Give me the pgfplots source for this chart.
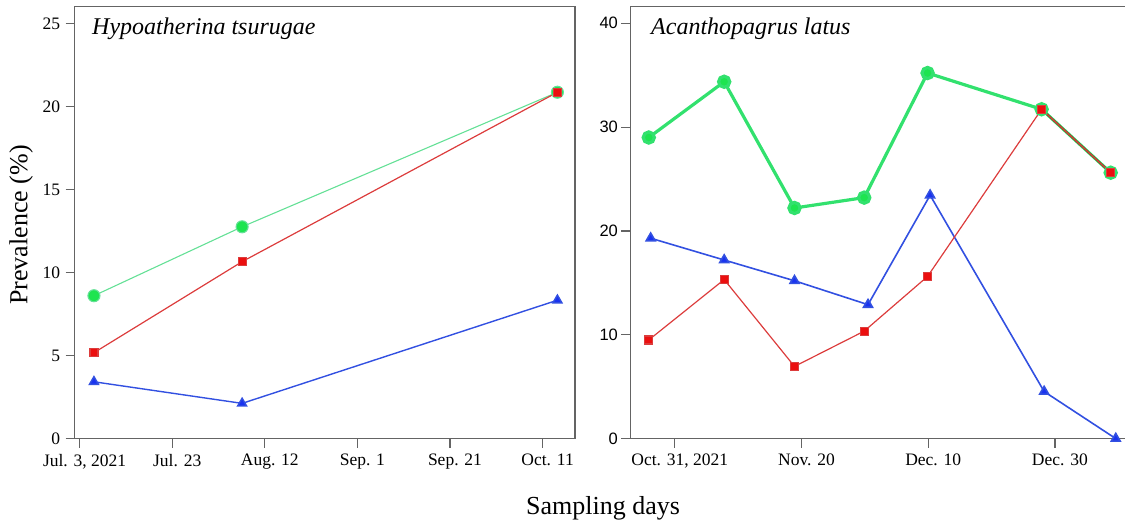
\documentclass[border=0pt]{standalone}
\usepackage{pgfplots}
\pgfplotsset{compat=1.18}
\usepackage{fontspec}
\setmainfont{Liberation Serif}
\newfontfamily\sansf{Liberation Sans}
\definecolor{gmark}{RGB}{30,228,80}
\definecolor{gline}{RGB}{50,225,110}
\definecolor{glineL}{RGB}{100,224,150}
\definecolor{rmark}{RGB}{235,15,15}
\definecolor{rline}{RGB}{220,60,60}
\definecolor{bmark}{RGB}{25,50,240}
\definecolor{bline}{RGB}{50,80,225}
\definecolor{olive}{RGB}{85,100,40}
\definecolor{axgray}{RGB}{100,100,100}

\pgfplotstableread{
x green red
3.1 8.6 5.17
35.1 12.75 10.65
103.2 20.85 20.85
}\leftGR
\pgfplotstableread{
x blue
3.1 3.42
35.1 2.12
103.2 8.33
}\leftB
\pgfplotstableread{
x green red
-4.1 29.0 9.5
7.8 34.37 15.32
18.9 22.21 6.95
29.9 23.21 10.35
39.9 35.21 15.62
57.9 31.72 31.72
68.8 25.61 25.61
}\rightGR
\pgfplotstableread{
x blue
-3.8 19.3
7.8 17.2
18.9 15.2
30.5 12.9
40.3 23.44
58.3 4.53
69.6 0
}\rightB

\begin{document}
\begin{tikzpicture}[x=1pt,y=1pt]
\pgfplotsset{
  myaxis/.style={
    anchor=south west, scale only axis,
    tick pos=left, tick align=outside, major tick length=9pt,
    tick style={draw=axgray, line width=1.2pt},
    ticklabel style={font=\fontsize{17.5}{17.5}\selectfont},
    xticklabel style={xshift=5pt, yshift=-3pt},
    /pgf/number format/assume math mode=true,
    clip=false,
    ymin=0,
  }
}
\begin{axis}[myaxis,
  at={(74.6pt,87.4pt)}, width=500.4pt, height=431.9pt,
  xmin=-1.08, xmax=107, ymax=26,
  axis line style={draw=axgray, line width=1.2pt},
  xtick={0,20,40,60,80,100},
  xticklabels={{Jul. 3, 2021},{Jul. 23},{Aug. 12},{Sep. 1},{Sep. 21},{Oct. 11}},
  ytick={0,5,10,15,20,25},
  yticklabel style={xshift=-2pt},
]
\addplot[glineL, line width=1.1pt, mark=*, mark size=6pt, mark options={draw=none, fill=gmark}] table[x=x, y=green] {\leftGR};
\addplot[bline, line width=1.4pt, mark=triangle*, mark size=5.2pt, mark options={draw=none, fill=bmark}] table[x=x, y=blue] {\leftB};
\addplot[rline, line width=1.2pt, mark=square*, mark size=4pt, mark options={draw=none, fill=rmark}] table[x=x, y=red] {\leftGR};
\end{axis}

\begin{axis}[myaxis,
  at={(630.4pt,87.4pt)}, width=494.6pt, height=431.9pt,
  xmin=-7.0, xmax=71.06, ymax=41.6,
  axis line style={draw=none},
  xtick={0,20,40,60},
  xticklabels={{Oct. 31, 2021},{Nov. 20},{Dec. 10},{Dec. 30}},
  ytick={0,10,20,30,40},
  yticklabel style={font=\sansf\fontsize{16.5}{16.5}\selectfont},
]
\draw[axgray, line width=1.2pt] (rel axis cs:1,1) -- (rel axis cs:0,1) -- (rel axis cs:0,0) -- (rel axis cs:1,0);
\addplot[gline, line width=3.2pt, mark=*, mark size=5.6pt, mark options={draw=none, fill=gmark}] table[x=x, y=green] {\rightGR};
\addplot[bline, line width=1.6pt, mark=triangle*, mark size=5.2pt, mark options={draw=none, fill=bmark}] table[x=x, y=blue] {\rightB};
\addplot[olive, line width=2pt] coordinates {(57.9,31.72) (68.8,25.61)};
\addplot[rline, line width=1.2pt, mark=square*, mark size=4pt, mark options={draw=none, fill=rmark}] table[x=x, y=red] {\rightGR};
\end{axis}

\node[anchor=base west, inner sep=0, font=\itshape\fontsize{24}{24}\selectfont] at (92,491) {Hypoatherina tsurugae};
\node[anchor=base west, inner sep=0, font=\itshape\fontsize{24}{24}\selectfont] at (651,491) {Acanthopagrus latus};
\node[rotate=90, inner sep=0, font=\fontsize{26}{26}\selectfont] at (21,301) {Prevalence (\%)};
\node[anchor=base, inner sep=0, font=\fontsize{26}{26}\selectfont] at (603,11) {Sampling days};

\pgfresetboundingbox
\path[use as bounding box] (0,0) rectangle (1125,526);
\end{tikzpicture}
\end{document}
